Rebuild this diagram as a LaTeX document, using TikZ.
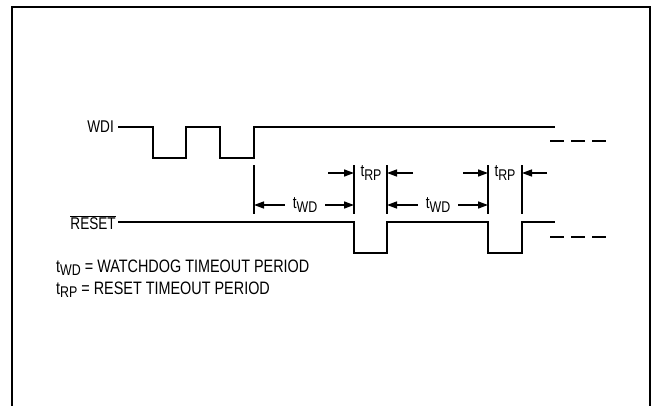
\documentclass[tikz,border=0pt]{standalone}
\usepackage{fontspec}
\setmainfont{Liberation Sans}[FakeStretch=0.8]
\usetikzlibrary{arrows.meta}
\newcommand\mysub[1]{\raisebox{-0.2em}{\fontsize{15.5}{15.5}\selectfont #1}}
\tikzset{
  wave/.style={line width=1.7pt, line join=miter, line cap=butt},
  marker/.style={line width=1.5pt},
  arr/.style={line width=1.5pt, -{Triangle[length=10pt,width=7pt]}},
  lbl/.style={inner sep=0pt, font=\fontsize{17}{17}\selectfont},
  leg/.style={inner sep=0pt, font=\fontsize{18}{18}\selectfont},
  dashline/.style={line width=1.5pt, dash pattern=on 14pt off 7pt},
  frame/.style={line width=2.2pt}
}
\begin{document}
\begin{tikzpicture}[x=1pt,y=-1pt]
\useasboundingbox (0,0) rectangle (652,406);
% frame
\coordinate (fbl) at (12,410);
\coordinate (ftl) at (12,7);
\coordinate (ftr) at (650,7);
\coordinate (fbr) at (650,410);
\draw[frame] (fbl) -- (ftl) -- (ftr) -- (fbr);

% labels
\node[lbl, anchor=base east] (wdi) at (114,133) {WDI};
\node[lbl, anchor=base east] (rst) at (116,229) {$\overline{\mbox{RESET}}$};

% WDI waveform
\coordinate (w0) at (118,127);
\coordinate (wend) at (555,127);
\draw[wave] (w0) -- (153,127) -- (153,158) -- (186,158) -- (186,127) -- (220,127)
  -- (220,158) -- (254,158) -- (254,127) -- (wend);
\coordinate (wd0) at (550,141);
\coordinate (wd1) at (606,141);
\draw[dashline] (wd0) -- (wd1);

% RESET waveform
\coordinate (r0) at (118,222);
\coordinate (rend) at (555,222);
\draw[wave] (r0) -- (354,222) -- (354,253) -- (387,253) -- (387,222) -- (488,222)
  -- (488,253) -- (522,253) -- (522,222) -- (rend);
\coordinate (rd0) at (550,237);
\coordinate (rd1) at (606,237);
\draw[dashline] (rd0) -- (rd1);

% timing markers
\foreach \n/\x in {a/254,b/354,c/387,d/488,e/522}{
  \coordinate (top-\n) at (\x,165);
  \coordinate (bot-\n) at (\x,214);
  \draw[marker] (top-\n) -- (bot-\n);
}

% tWD labels
\node[lbl] (twd1) at (305,205) {t\mysub{WD}};
\node[lbl] (twd2) at (438,205) {t\mysub{WD}};
\draw[arr, shorten <=8pt] (twd1.west) -- (top-a |- twd1.west);
\draw[arr, shorten <=8pt] (twd1.east) -- (top-b |- twd1.east);
\draw[arr, shorten <=8pt] (twd2.west) -- (top-c |- twd2.west);
\draw[arr, shorten <=8pt] (twd2.east) -- (top-d |- twd2.east);

% tRP labels
\node[lbl] (trp1) at (371,173) {t\mysub{RP}};
\node[lbl] (trp2) at (505,173) {t\mysub{RP}};
\coordinate (p1l) at (328,173);
\coordinate (p1r) at (413,173);
\coordinate (p2l) at (463,173);
\coordinate (p2r) at (547,173);
\draw[arr] (p1l) -- (top-b |- trp1.west);
\draw[arr] (p1r) -- (top-c |- trp1.east);
\draw[arr] (p2l) -- (top-d |- trp2.west);
\draw[arr] (p2r) -- (top-e |- trp2.east);

% legend
\node[leg, anchor=base west] (leg1) at (56,272) {t\mysub{WD} = WATCHDOG TIMEOUT PERIOD};
\node[leg, anchor=base west] (leg2) at (56,294) {t\mysub{RP} = RESET TIMEOUT PERIOD};
\end{tikzpicture}
\end{document}
